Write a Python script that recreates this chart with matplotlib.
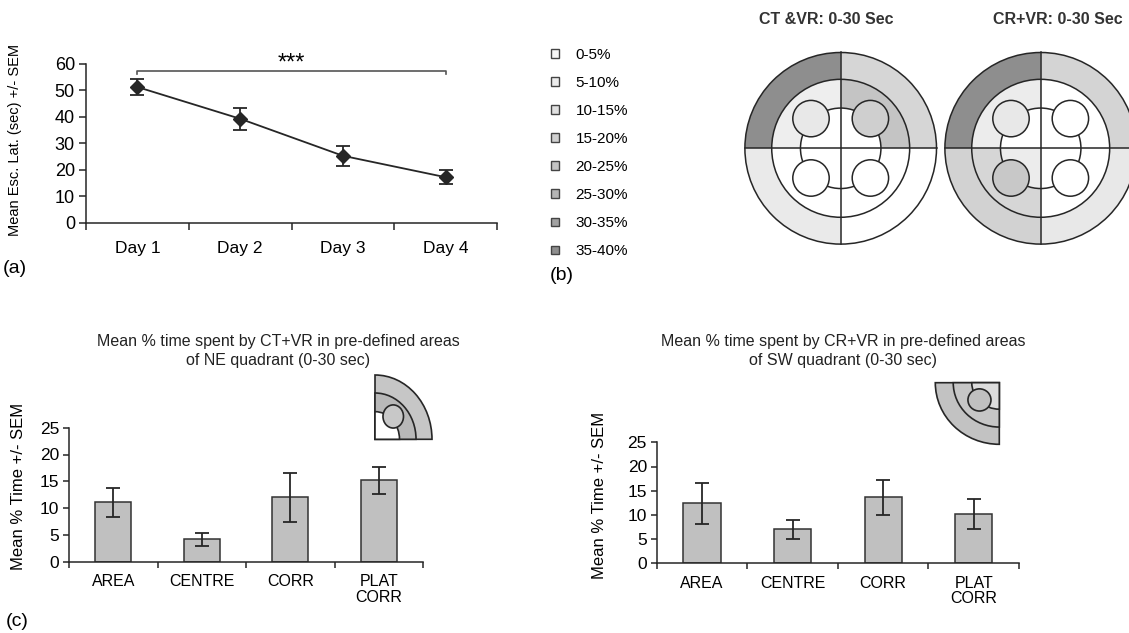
import numpy as np
import matplotlib.pyplot as plt
from matplotlib.patches import Wedge, Circle, Patch

plt.rcParams['font.family'] = ['Liberation Sans', 'DejaVu Sans']

# ============================================================
# Data
# ============================================================

days = ['Day 1', 'Day 2', 'Day 3', 'Day 4']
esc_lat = [51.3, 39.3, 25.3, 17.2]
esc_sem = [2.9, 4.2, 3.8, 2.7]

areas = ['AREA', 'CENTRE', 'CORR', 'PLAT\nCORR']
ne_time = [11.1, 4.2, 12.0, 15.2]
ne_sem = [2.7, 1.2, 4.5, 2.5]
sw_time = [12.4, 7.0, 13.6, 10.2]
sw_sem = [4.2, 2.0, 3.6, 3.1]

bins = ['0-5%', '5-10%', '10-15%', '15-20%', '20-25%', '25-30%', '30-35%', '35-40%']
bin_colors = ['#f6f6f6', '#ececec', '#e0e0e0', '#d0d0d0', '#c4c4c4',
              '#b4b4b4', '#a2a2a2', '#8e8e8e']

# maze zone shades, quadrant order NE, NW, SW, SE
ct_outer = ['#d6d6d6', '#8e8e8e', '#eaeaea', '#ffffff']
ct_inner = ['#c4c4c4', '#eeeeee', '#ffffff', '#ffffff']
ct_centre = ['#ffffff', '#ffffff', '#ffffff', '#ffffff']
ct_plat = ['#cfcfcf', '#e8e8e8', '#ffffff', '#ffffff']

cr_outer = ['#d4d4d4', '#8e8e8e', '#d2d2d2', '#e8e8e8']
cr_inner = ['#ffffff', '#ececec', '#d6d6d6', '#ffffff']
cr_centre = ['#ffffff', '#ffffff', '#ececec', '#ffffff']
cr_plat = ['#ffffff', '#e8e8e8', '#c8c8c8', '#ffffff']

W, H = 1129, 633
INK = '#262626'
TXT = '#222222'

fig = plt.figure(figsize=(W / 100, H / 100), dpi=100)


def px_rect(x0, y0, x1, y1):
    return [x0 / W, 1 - y1 / H, (x1 - x0) / W, (y1 - y0) / H]


def style_cat_axis(ax, n, pad):
    ax.spines['top'].set_visible(False)
    ax.spines['right'].set_visible(False)
    for s in ('left', 'bottom'):
        ax.spines[s].set_color(INK)
        ax.spines[s].set_linewidth(1.1)
    ax.set_xlim(-0.5, n - 0.5)
    ax.set_xticks(np.arange(n))
    ax.set_xticks(np.arange(n + 1) - 0.5, minor=True)
    ax.tick_params(axis='x', which='major', length=0, pad=pad)
    ax.tick_params(axis='x', which='minor', length=5, width=1.1, color=INK)
    ax.tick_params(axis='y', length=5, width=1.1, color=INK, pad=3)


# ============================================================
# (a) escape latency
# ============================================================

ax_a = fig.add_axes(px_rect(86, 64, 497, 222.7))
xa = np.arange(len(days))
ax_a.errorbar(xa, esc_lat, yerr=esc_sem, color=INK, lw=1.3, marker='D',
              markersize=7, capsize=5, elinewidth=1.3, capthick=1.3)
ax_a.set_ylim(0, 60)
ax_a.set_yticks(range(0, 61, 10))
style_cat_axis(ax_a, len(days), 13)
ax_a.set_xticklabels(days, fontsize=12.5)
ax_a.tick_params(axis='y', labelsize=13)
ax_a.plot([0, 0, 3, 3], [56.4, 57.2, 57.2, 56.4], color='#555555', lw=1.2,
          clip_on=False)
ax_a.text(1.5, 60.3, '***', ha='center', va='center', fontsize=17,
          clip_on=False)
fig.text(15 / W, 1 - 140 / H, 'Mean Esc. Lat. (sec) +/- SEM', rotation=90,
         ha='center', va='center', fontsize=10.5)
fig.text(3 / W, 1 - 268 / H, '(a)', ha='left', va='center', fontsize=14)

# ============================================================
# (b) legend + maze diagrams
# ============================================================

handles = [Patch(facecolor=c, edgecolor='#444444', lw=1.0) for c in bin_colors]
fig.legend(handles, bins, loc='upper left', bbox_to_anchor=(551 / W, 1 - 48 / H),
           frameon=False, fontsize=11, handlelength=0.5, handleheight=0.5,
           handletextpad=1.1, labelspacing=0.92, borderpad=0, borderaxespad=0)
fig.text(550 / W, 1 - 275 / H, '(b)', ha='left', va='center', fontsize=14)

R_IN, R_CEN, P_OFF, P_R = 0.72, 0.42, 0.31, 0.19


def draw_maze(cx, cy, r, outer, inner, centre, plat):
    ax = fig.add_axes(px_rect(cx - 1.05 * r, cy - 1.05 * r, cx + 1.05 * r, cy + 1.05 * r))
    ax.set_xlim(-1.05, 1.05)
    ax.set_ylim(-1.05, 1.05)
    ax.axis('off')
    for q in range(4):
        t1, t2 = 90 * q, 90 * (q + 1)
        ax.add_patch(Wedge((0, 0), 1.0, t1, t2, facecolor=outer[q], lw=0))
        ax.add_patch(Wedge((0, 0), R_IN, t1, t2, facecolor=inner[q], lw=0))
        ax.add_patch(Wedge((0, 0), R_CEN, t1, t2, facecolor=centre[q], lw=0))
    for rad in (1.0, R_IN, R_CEN):
        ax.add_patch(Circle((0, 0), rad, fill=False, edgecolor=INK, lw=1.1))
    ax.plot([-1, 1], [0, 0], color=INK, lw=1.1)
    ax.plot([0, 0], [-1, 1], color=INK, lw=1.1)
    for q in range(4):
        ang = np.deg2rad(45 + 90 * q)
        px, py = np.sign(np.cos(ang)) * P_OFF, np.sign(np.sin(ang)) * P_OFF
        ax.add_patch(Circle((px, py), P_R, facecolor=plat[q], edgecolor=INK, lw=1.1))
    return ax


draw_maze(840.7, 148.3, 95.8, ct_outer, ct_inner, ct_centre, ct_plat)
draw_maze(1040.7, 148.3, 95.8, cr_outer, cr_inner, cr_centre, cr_plat)
fig.text(826 / W, 1 - 20 / H, 'CT &VR: 0-30 Sec', ha='center', va='center',
         fontsize=11.5, fontweight='bold', color='#333333')
fig.text(1058 / W, 1 - 20 / H, 'CR+VR: 0-30 Sec', ha='center', va='center',
         fontsize=11.5, fontweight='bold', color='#333333')

# ============================================================
# (c) quadrant bar charts
# ============================================================


def bar_panel(rect, vals, sem):
    ax = fig.add_axes(rect)
    xb = np.arange(len(areas))
    ax.bar(xb, vals, width=0.41, color='#c0c0c0', edgecolor='#333333', lw=1.1,
           yerr=sem, capsize=5,
           error_kw=dict(elinewidth=1.3, capthick=1.3, ecolor=INK))
    ax.set_ylim(0, 25)
    ax.set_yticks(range(0, 26, 5))
    style_cat_axis(ax, len(areas), 9)
    ax.tick_params(axis='y', length=4, labelsize=12.5)
    ax.tick_params(axis='x', which='minor', length=4)
    ax.set_xticklabels(areas, fontsize=11.5, va='top', linespacing=1.05)
    return ax


def draw_icon(rect, xlim, ylim, t1, t2, cols, plat_xy):
    ax = fig.add_axes(rect)
    ax.set_xlim(*xlim)
    ax.set_ylim(*ylim)
    ax.axis('off')
    ax.add_patch(Wedge((0, 0), 1.0, t1, t2, facecolor=cols[0], edgecolor=INK,
                       lw=1.2, clip_on=False))
    ax.add_patch(Wedge((0, 0), R_IN, t1, t2, facecolor=cols[1], edgecolor=INK,
                       lw=1.2, clip_on=False))
    ax.add_patch(Wedge((0, 0), 0.43, t1, t2, facecolor=cols[3], edgecolor=INK,
                       lw=1.2, clip_on=False))
    ax.add_patch(Circle(plat_xy, 0.18, facecolor=cols[2], edgecolor=INK, lw=1.2,
                        clip_on=False))


bar_panel(px_rect(69, 427.7, 423, 561.7), ne_time, ne_sem)
draw_icon(px_rect(375, 375, 432, 439.3), (0, 1), (0, 1), 0, 90,
          ['#c6c6c6', '#b8b8b8', '#c8c8c8', '#ffffff'], (0.32, 0.355))
fig.text(278 / W, 1 - 351 / H,
         'Mean % time spent by CT+VR in pre-defined areas\nof NE quadrant (0-30 sec)',
         ha='center', va='center', fontsize=11.5, linespacing=1.3, color=TXT)
fig.text(19 / W, 1 - 486 / H, 'Mean % Time +/- SEM', rotation=90,
         ha='center', va='center', fontsize=12)

bar_panel(px_rect(656.7, 442.3, 1019, 563.3), sw_time, sw_sem)
draw_icon(px_rect(935.3, 382.7, 999.3, 444.3), (-1, 0), (-1, 0), 180, 270,
          ['#c2c2c2', '#c6c6c6', '#c0c0c0', '#dcdcdc'], (-0.31, -0.28))
fig.text(843 / W, 1 - 351 / H,
         'Mean % time spent by CR+VR in pre-defined areas\nof SW quadrant (0-30 sec)',
         ha='center', va='center', fontsize=11.5, linespacing=1.3, color=TXT)
fig.text(600 / W, 1 - 495 / H, 'Mean % Time +/- SEM', rotation=90,
         ha='center', va='center', fontsize=12)

fig.text(6 / W, 1 - 621 / H, '(c)', ha='left', va='center', fontsize=14)

fig.savefig('out.png', dpi=100)
